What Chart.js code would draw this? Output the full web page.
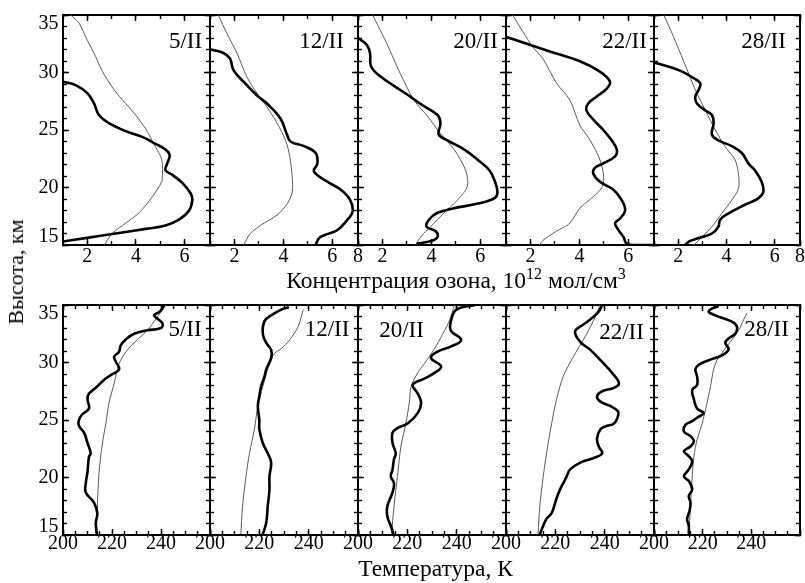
<!DOCTYPE html>
<html><head><meta charset="utf-8">
<script src="https://cdn.jsdelivr.net/npm/chart.js@4.4.1/dist/chart.umd.min.js"></script>
<style>
html,body{margin:0;padding:0;background:#fff;}
body{width:805px;height:583px;position:relative;overflow:hidden;font-family:"Liberation Serif","Times New Roman",serif;color:#000;}
.pc{position:absolute;}
.pc canvas{display:block;}
.lbl{position:absolute;font-size:23px;line-height:1;white-space:nowrap;transform:translate(-50%,-50%);}
.title{position:absolute;font-size:23.5px;line-height:1;white-space:nowrap;transform:translate(-50%,-50%);}
.title sup{font-size:16px;line-height:0;vertical-align:0.55em;}
.vt{position:absolute;font-size:22px;line-height:1;white-space:nowrap;transform:translate(-50%,-50%) rotate(-90deg);}
</style>
</head><body>
<script>
// ---------------- data ----------------
const dates = ['5/II','12/II','20/II','22/II','28/II'];
const kmTickLabels = [15,20,25,30,35];
const ozoneTickLabels = [2,4,6];
const ozoneEdgeLabel = '8';
const ozoneEdgePanels = [1,4];
const tempTickLabels = [200,220,240];
const KM_MIN = 15, KM_MAX = 35;
const OZ_MIN = 1, OZ_MAX = 7.05;
const T_MIN = 200, T_MAX = 260;

// ozone concentration profiles [value, km]
const o3_05_thick = [[1.0,29.2],[1.52,28.9],[2.0,28.2],[2.28,27.3],[2.48,26.3],[2.89,25.6],[3.58,24.9],[4.26,24.4],[4.81,23.8],[5.22,23.3],[5.39,22.8],[5.29,22.1],[5.22,21.5],[5.5,21.1],[5.91,20.4],[6.25,19.5],[6.32,18.9],[6.19,18.0],[5.77,17.2],[5.22,16.7],[4.4,16.4],[3.17,16.0],[1.93,15.6],[1.0,15.3]];
const o3_05_thin = [[1.32,35.0],[1.66,34.3],[2.0,32.8],[2.34,31.4],[2.62,30.1],[3.1,28.5],[3.58,27.3],[3.99,26.3],[4.4,25.1],[4.74,23.8],[5.02,22.7],[5.09,22.1],[5.09,21.2],[5.06,20.5],[4.68,19.2],[4.13,17.8],[3.58,16.9],[3.03,16.0],[2.69,15.0]];
const o3_12_thick = [[1.0,32.0],[1.55,31.7],[1.82,31.2],[1.96,30.2],[2.37,29.2],[2.92,28.0],[3.33,27.3],[3.88,26.0],[4.13,24.7],[4.29,24.0],[4.84,23.6],[5.32,23.0],[5.39,22.1],[5.25,21.4],[5.8,20.5],[6.35,19.8],[6.73,18.9],[6.83,17.9],[6.62,17.2],[6.21,16.3],[5.73,15.9],[5.46,15.6],[5.32,15.0]];
const o3_12_thin = [[1.34,35.0],[1.69,33.4],[2.1,31.7],[2.51,29.6],[2.92,28.2],[3.33,27.0],[3.74,25.6],[4.09,24.1],[4.26,22.7],[4.36,20.9],[4.36,19.6],[4.16,18.6],[3.74,17.6],[3.06,16.7],[2.65,16.0],[2.37,15.0]];
const o3_20_thick = [[1.0,33.0],[1.36,32.4],[1.49,31.7],[1.54,30.5],[1.95,29.6],[2.5,28.8],[3.07,28.0],[3.6,27.2],[4.25,26.3],[4.37,25.6],[4.3,24.6],[4.65,24.1],[5.35,23.3],[5.9,22.4],[6.37,21.5],[6.6,20.5],[6.7,19.6],[6.6,19.1],[5.9,18.6],[4.93,18.2],[4.25,17.8],[3.9,17.2],[3.8,16.6],[4.18,16.2],[4.25,15.7],[4.05,15.4],[3.4,15.1]];
const o3_20_thin = [[1.6,35.0],[2.18,32.5],[2.73,29.9],[3.29,27.6],[3.84,26.2],[4.37,24.7],[4.93,23.3],[5.4,21.5],[5.47,20.1],[5.06,18.9],[4.52,17.8],[3.97,16.6],[3.56,15.7],[3.36,15.0]];
const o3_22_thick = [[1.0,33.1],[2.7,31.9],[4.0,31.0],[4.84,30.07],[5.25,29.2],[5.12,28.6],[4.7,27.9],[4.36,27.3],[4.29,26.7],[4.57,25.9],[4.98,25.0],[5.32,24.1],[5.53,23.3],[5.46,22.7],[4.98,22.1],[4.63,21.7],[4.57,21.2],[4.84,20.5],[5.39,19.8],[5.73,18.9],[5.87,18.0],[5.66,17.3],[5.46,16.9],[5.6,16.3],[5.8,15.7],[5.94,15.1],[6.3,15.0],[7.05,15.0]];
const o3_22_thin = [[1.27,35.0],[1.82,33.1],[2.1,32.2],[2.51,31.2],[3.06,29.1],[3.61,27.6],[4.02,25.4],[4.35,24.4],[4.6,23.5],[4.84,22.4],[4.98,21.2],[4.95,20.1],[4.57,19.2],[4.02,18.2],[3.61,16.9],[3.06,16.2],[2.51,15.4],[2.37,15.0]];
const o3_28_thick = [[1.0,30.86],[1.62,30.5],[2.17,30.07],[2.65,29.5],[2.92,29.06],[2.85,28.5],[2.71,27.9],[2.78,27.3],[3.13,26.7],[3.4,26.3],[3.47,25.6],[3.4,24.6],[3.67,24.1],[4.22,23.6],[4.64,23.0],[4.91,22.1],[5.18,21.5],[5.46,20.5],[5.53,19.6],[5.32,19.06],[4.77,18.5],[4.09,17.75],[3.74,17.2],[3.67,16.6],[3.4,16.0],[2.85,15.6],[2.44,15.3],[2.3,15.0]];
const o3_28_thin = [[1.41,35.0],[1.75,33.4],[2.03,32.0],[2.44,29.9],[2.71,28.5],[3.13,26.7],[3.54,25.0],[3.95,23.55],[4.36,22.4],[4.5,21.2],[4.5,19.9],[4.22,18.9],[3.81,17.75],[3.4,16.6],[2.99,15.7],[2.65,15.0]];

// temperature profiles [K, km]
const t_05_thick = [[213.8,15.06],[213.4,16.07],[214.0,16.9],[212.7,17.8],[209.3,18.7],[209.3,19.5],[210.0,20.5],[210.6,21.8],[211.3,22.1],[210.0,23.0],[208.6,23.9],[206.5,24.5],[206.5,25.0],[207.9,25.5],[210.6,26.0],[210.0,26.8],[210.6,27.3],[213.4,27.8],[216.8,28.5],[219.5,28.9],[222.9,29.4],[221.5,30.1],[220.9,30.5],[222.9,30.95],[223.6,31.5],[225.6,32.0],[229.0,32.5],[234.5,32.8],[240.0,33.0],[240.6,33.4],[238.6,33.8],[237.2,34.1],[239.3,34.4],[240.6,34.7],[241.3,35.0]];
const t_05_thin = [[213.4,15.06],[214.0,17.5],[214.7,20.4],[216.1,23.0],[217.5,24.7],[218.8,26.5],[220.9,28.2],[222.9,29.9],[226.3,31.1],[230.4,32.0],[234.5,32.8],[238.6,34.0],[242.0,35.0]];
const t_12_thick = [[221.4,15.06],[222.8,16.07],[223.4,17.5],[224.1,18.96],[224.1,20.1],[224.8,21.3],[223.4,22.1],[221.4,23.0],[220.0,24.2],[220.0,25.0],[219.4,26.2],[220.0,27.05],[220.7,27.9],[222.1,28.8],[222.8,29.4],[224.8,30.4],[224.8,31.1],[222.8,31.7],[221.4,32.5],[222.1,33.6],[224.8,34.1],[228.9,34.6],[232.0,34.8]];
const t_12_thin = [[212.5,15.06],[213.2,17.5],[214.6,20.1],[216.0,22.1],[218.0,24.2],[219.4,26.2],[221.4,27.9],[224.1,29.9],[226.2,30.8],[228.9,31.2],[232.3,31.97],[235.7,33.1],[237.8,34.6]];
const t_20_thick = [[214.4,15.06],[213.3,15.8],[211.9,16.6],[211.9,17.5],[214.0,18.7],[214.6,19.5],[213.3,20.1],[214.0,20.7],[214.6,21.6],[215.3,22.1],[214.0,23.0],[214.0,23.9],[216.0,24.3],[220.1,24.7],[224.2,25.6],[225.6,26.5],[224.2,27.3],[222.2,28.06],[226.9,28.6],[231.0,29.1],[233.7,29.65],[229.6,30.4],[232.3,30.95],[237.8,31.4],[241.8,31.97],[237.6,32.8],[237.8,33.7],[239.9,34.6],[247.4,35.0]];
const t_20_thin = [[213.6,15.06],[214.6,17.5],[216.0,20.1],[217.4,22.7],[219.4,24.7],[220.8,26.5],[221.5,27.9],[224.2,29.1],[226.9,29.9],[231.0,31.2],[234.4,32.5],[237.2,33.7],[238.5,34.6],[239.2,35.0]];
const t_22_thick = [[213.7,15.06],[215.1,15.8],[216.4,16.4],[218.5,16.9],[219.8,17.7],[220.5,18.2],[221.9,18.96],[223.2,19.5],[224.6,20.1],[226.0,20.7],[230.1,21.3],[235.6,21.7],[239.0,22.1],[237.6,22.7],[236.9,23.4],[238.3,24.2],[240.4,24.45],[243.8,24.7],[245.2,25.2],[245.4,25.75],[242.4,26.2],[238.3,26.6],[236.9,27.05],[239.0,27.5],[243.8,27.8],[245.8,28.2],[243.0,29.1],[238.3,30.2],[234.2,31.1],[230.1,31.8],[228.0,32.7],[231.4,33.3],[234.5,33.8],[237.5,34.4],[239.0,35.0]];
const t_22_thin = [[213.0,15.06],[213.7,17.5],[215.1,20.1],[217.1,23.0],[218.5,24.7],[220.5,26.8],[223.2,28.8],[227.3,30.5],[231.4,32.0],[233.5,32.8],[236.9,34.3],[238.0,35.0]];
const t_28_thick = [[214.3,15.06],[214.3,15.8],[213.6,16.4],[214.6,17.1],[215.0,17.8],[214.3,18.4],[215.7,18.96],[214.3,19.7],[212.3,20.1],[214.3,20.7],[215.7,21.4],[214.3,21.85],[212.3,22.3],[215.0,22.7],[216.4,23.15],[215.0,23.6],[212.3,24.0],[213.0,24.6],[215.7,24.9],[217.7,25.2],[220.4,25.6],[217.7,26.0],[216.4,26.8],[215.7,27.6],[217.7,28.06],[217.7,28.8],[217.0,29.4],[218.4,29.8],[222.5,30.2],[226.6,30.5],[229.3,30.8],[230.7,31.2],[229.3,31.7],[230.7,32.1],[233.4,32.5],[234.1,33.1],[232.0,33.55],[225.2,34.1],[222.5,34.4],[223.9,34.7],[226.6,34.9]];
const t_28_thin = [[214.3,15.06],[215.0,17.5],[215.7,20.1],[216.4,21.85],[217.7,23.3],[219.8,24.7],[221.8,26.5],[223.2,27.9],[224.5,29.4],[225.9,30.2],[227.9,30.8],[229.9,31.4],[232.0,31.97],[234.8,32.8],[236.8,33.7],[238.2,34.3]];

const ozoneThick = [o3_05_thick,o3_12_thick,o3_20_thick,o3_22_thick,o3_28_thick];
const ozoneThin  = [o3_05_thin,o3_12_thin,o3_20_thin,o3_22_thin,o3_28_thin];
const tempThick  = [t_05_thick,t_12_thick,t_20_thick,t_22_thick,t_28_thick];
const tempThin   = [t_05_thin,t_12_thin,t_20_thin,t_22_thin,t_28_thin];

// ---------------- layout ----------------
const colEdges = [63,210,358,506,654,800];
const rowTops = [15,305];
const FRAME_H = 230;
const topLabelPos = [[185.5,40],[321.5,40],[475.5,40],[624.5,40],[763.5,40]];
const botLabelPos = [[185,328],[327,328],[401.5,329],[621.5,331],[766.5,328]];

const FAM = '"Liberation Serif","Times New Roman",serif';
const TICK_FONT = {family:FAM, size:20};
const Y_FONT = {family:FAM, size:20, lineHeight:0.85};
const X_AXIS_H = 30, Y_AXIS_W = 40;

function fitTo(size){ return s => { if (s.isHorizontal()) s.height = size; else s.width = size; }; }

function axis(ax, position, min, max, o){
  const cfg = {
    type:'linear', axis:ax, position, min, max, weight:o.major?1:0,
    afterFit: fitTo(o.size || 0),
    border:{display:!!o.major, width:2, color:'#000'},
    grid:{display:true, drawOnChartArea:false, drawTicks:true, tickLength:o.major?-6:-4, tickWidth:1.4, tickColor:'#000'},
    ticks:{display:!!o.labels, stepSize:o.step, maxTicksLimit:200, autoSkip:false, maxRotation:0, minRotation:0,
           color:'#000', font:o.font||TICK_FONT, padding:o.padding||0}
  };
  if (o.callback) cfg.ticks.callback = o.callback;
  if (o.afterBuildTicks) cfg.afterBuildTicks = o.afterBuildTicks;
  return cfg;
}

function pts(arr){ return arr.map(p => ({x:p[0], y:p[1]})); }

function makePanel(r, c){
  const L = colEdges[c], R = colEdges[c+1], T = rowTops[r];
  const padL = 50, padR = 25, padT = 40, padB = 50;
  const W = R - L + padL + padR, H = FRAME_H + padT + padB;
  const wrap = document.createElement('div');
  wrap.className = 'pc';
  wrap.style.left = (L - padL) + 'px'; wrap.style.top = (T - padT) + 'px';
  wrap.style.width = W + 'px'; wrap.style.height = H + 'px';
  const cv = document.createElement('canvas');
  cv.width = W; cv.height = H; cv.style.width = W + 'px'; cv.style.height = H + 'px';
  wrap.appendChild(cv); document.body.appendChild(wrap);

  const isOz = r === 0;
  const xmin = isOz ? OZ_MIN : T_MIN, xmax = isOz ? OZ_MAX : T_MAX;
  const thin = isOz ? ozoneThin[c] : tempThin[c];
  const thick = isOz ? ozoneThick[c] : tempThick[c];
  const yLabels = c === 0;

  let xMajorBottom, xMajorTop;
  if (isOz) {
    const edge = ozoneEdgePanels.includes(c);
    const abt = s => { const t = ozoneTickLabels.map(v => ({value:v})); if (edge) t.push({value:OZ_MAX}); s.ticks = t; };
    xMajorBottom = axis('x','bottom',xmin,xmax,{major:true,labels:true,size:X_AXIS_H,step:2,padding:6,afterBuildTicks:abt,
      callback:v => (v === OZ_MAX ? ozoneEdgeLabel : String(v))});
    xMajorTop = axis('x','top',xmin,xmax,{major:true,labels:false,step:2,afterBuildTicks:abt});
  } else {
    xMajorBottom = axis('x','bottom',xmin,xmax,{major:true,labels:true,size:X_AXIS_H,step:20,padding:3,
      callback:v => (tempTickLabels.includes(v) ? String(v) : '')});
    xMajorTop = axis('x','top',xmin,xmax,{major:true,labels:false,step:20});
  }
  const minorStep = isOz ? 1 : 5;
  const yCb = v => (!kmTickLabels.includes(v) ? '' : v === KM_MAX ? ['', String(v)] : v === KM_MIN ? [String(v), ''] : String(v));

  const scales = {
    x: xMajorBottom,
    xm: axis('x','bottom',xmin,xmax,{major:false,step:minorStep}),
    xt: xMajorTop,
    xtm: axis('x','top',xmin,xmax,{major:false,step:minorStep}),
    y: axis('y','left',KM_MIN,KM_MAX,{major:true,labels:yLabels,size:yLabels?Y_AXIS_W:0,step:5,padding:10.5,font:Y_FONT,callback:yCb}),
    ym: axis('y','left',KM_MIN,KM_MAX,{major:false,step:1}),
    yr: axis('y','right',KM_MIN,KM_MAX,{major:true,labels:false,step:5}),
    yrm: axis('y','right',KM_MIN,KM_MAX,{major:false,step:1})
  };

  new Chart(cv, {
    type:'scatter',
    data:{datasets:[
      {data:pts(thin), showLine:true, borderColor:'#5a5a5a', borderWidth:1, pointRadius:0, tension:0.3, xAxisID:'x', yAxisID:'y', order:2},
      {data:pts(thick), showLine:true, borderColor:'#000', borderWidth:2.6, pointRadius:0, tension:0.4, xAxisID:'x', yAxisID:'y', order:1}
    ]},
    options:{
      responsive:false, animation:false, devicePixelRatio:1,
      layout:{padding:{left:padL - (yLabels ? Y_AXIS_W : 0), right:padR, top:padT, bottom:padB - X_AXIS_H}},
      plugins:{legend:{display:false}, tooltip:{enabled:false}, title:{display:false}},
      events:[],
      scales
    }
  });
}

for (let r = 0; r < 2; r++) for (let c = 0; c < 5; c++) makePanel(r, c);

function addDiv(cls, html, x, y){
  const d = document.createElement('div');
  d.className = cls; d.innerHTML = html;
  d.style.left = x + 'px'; d.style.top = y + 'px';
  document.body.appendChild(d);
}
dates.forEach((d, i) => { addDiv('lbl', d, topLabelPos[i][0], topLabelPos[i][1]); addDiv('lbl', d, botLabelPos[i][0], botLabelPos[i][1]); });
addDiv('title', 'Концентрация озона, 10<sup>12</sup> мол/см<sup>3</sup>', 456, 281);
addDiv('title', 'Температура, К', 435.5, 569);
addDiv('vt', 'Высота, км', 16, 272);
</script>
</body></html>
